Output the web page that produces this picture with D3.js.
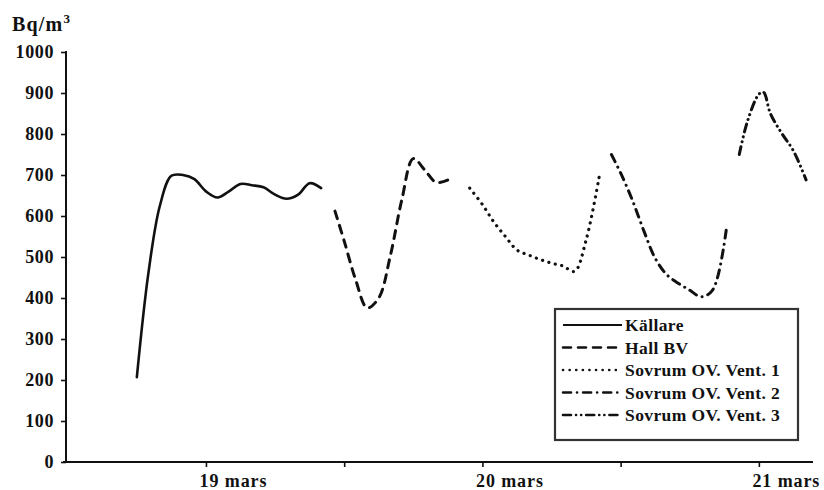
<!DOCTYPE html>
<html>
<head>
<meta charset="utf-8">
<script src="https://cdn.jsdelivr.net/npm/d3@7"></script>
<style>
  html, body { margin: 0; padding: 0; background: #fff; }
  svg { display: block; }
  text { font-family: "Liberation Serif", "Times New Roman", serif; font-weight: bold; fill: #111; }
</style>
</head>
<body>
<svg id="chart" width="824" height="490"></svg>
<script>
// ---- Data (hours relative to 19 mars 00:00, values in Bq/m3) ----
const seriesNames = ["Källare", "Hall BV", "Sovrum OV. Vent. 1", "Sovrum OV. Vent. 2", "Sovrum OV. Vent. 3"];

const kallareHours  = [-6, -5, -4, -3, -2, -1, 0, 1, 2, 3, 4, 5, 6, 7, 8, 9, 10];
const kallareValues = [207, 460, 625, 698, 700, 690, 660, 645, 660, 678, 675, 670, 652, 642, 652, 680, 668];

const hallHours  = [11.2, 12, 13, 14, 15, 16, 17, 18, 19, 20, 21.2];
const hallValues = [612, 539, 444, 376, 400, 502, 639, 740, 712, 682, 690];

const vent1Hours  = [22.9, 24, 25, 26, 27, 28, 29, 30, 31, 32, 33, 34.2];
const vent1Values = [668, 628, 585, 550, 517, 505, 494, 485, 478, 465, 541, 705];

const vent2Hours  = [35.2, 36, 37, 38, 39, 40, 41, 42, 43, 44, 45.2];
const vent2Values = [750, 705, 640, 565, 497, 457, 436, 419, 403, 420, 573];

const vent3Hours  = [46.3, 47, 48, 48.4, 49, 50, 51, 52.1];
const vent3Values = [750, 830, 897, 902, 850, 801, 759, 688];

const yTicks = [0, 100, 200, 300, 400, 500, 600, 700, 800, 900, 1000];
const xTicks = [0, 12, 24, 36, 48];
const xTickLabels = ["19 mars", "", "20 mars", "", "21 mars"];
const yUnit = "Bq/m";

// ---- Styles ----
const dashStyles = [
  { dash: null,               cap: "round", w: 2.6 },
  { dash: "8,7",              cap: "round", w: 3.0 },
  { dash: "0.1,6.5",          cap: "round", w: 3.2 },
  { dash: "8,6,0.1,6",        cap: "round", w: 3.0 },
  { dash: "8,5,0.1,5,0.1,5",  cap: "round", w: 3.0 }
];

const svg = d3.select("#chart");

const x = d3.scaleLinear().domain([-12.15, 52.7]).range([66, 813]);
const y = d3.scaleLinear().domain([0, 1000]).range([462, 52]);

// Axes
const yAxis = d3.axisLeft(y).tickValues(yTicks).tickSize(5).tickSizeOuter(0).tickPadding(7).tickFormat(d3.format("d"));
const gy = svg.append("g").attr("transform", "translate(66,0)").call(yAxis);
gy.select(".domain").attr("stroke", "#111").attr("stroke-width", 2).attr("d", "M0,462.5V51");
gy.selectAll(".tick line").attr("stroke", "#111").attr("stroke-width", 1.6);
gy.selectAll(".tick text").style("font-size", "18px").style("letter-spacing", "0.6px").attr("dy", "0.3em");

const xAxis = d3.axisBottom(x).tickValues(xTicks).tickSize(5).tickSizeOuter(0).tickPadding(4)
  .tickFormat((d, i) => xTickLabels[i]);
const gx = svg.append("g").attr("transform", "translate(0,462)").call(xAxis);
gx.select(".domain").attr("stroke", "#111").attr("stroke-width", 2).attr("d", "M63,0H813");
gx.selectAll(".tick line").attr("stroke", "#111").attr("stroke-width", 1.6);
gx.selectAll(".tick text").style("font-size", "18px").style("letter-spacing", "0.9px")
  .attr("dx", 27).attr("dy", "0.9em");

// Unit label
const unit = svg.append("text").attr("x", 12).attr("y", 31).style("font-size", "20px").style("letter-spacing", "1.2px").text(yUnit);
unit.append("tspan").attr("dy", -8).style("font-size", "13px").text("3");

// Lines
const allHours = [kallareHours, hallHours, vent1Hours, vent2Hours, vent3Hours];
const allValues = [kallareValues, hallValues, vent1Values, vent2Values, vent3Values];

const line = d3.line().x(d => x(d[0])).y(d => y(d[1])).curve(d3.curveCatmullRom.alpha(0.5));

allHours.forEach((hrs, i) => {
  const pts = hrs.map((h, j) => [h, allValues[i][j]]);
  const s = dashStyles[i];
  svg.append("path")
    .attr("d", line(pts))
    .attr("fill", "none")
    .attr("stroke", "#111")
    .attr("stroke-width", s.w)
    .attr("stroke-linecap", s.cap)
    .attr("stroke-linejoin", "round")
    .attr("stroke-dasharray", s.dash);
});

// Legend
const lg = svg.append("g").attr("transform", "translate(555,309)");
lg.append("rect").attr("x", 0).attr("y", 0).attr("width", 243).attr("height", 131)
  .attr("fill", "#fff").attr("stroke", "#333").attr("stroke-width", 2.2);
seriesNames.forEach((name, i) => {
  const cy = 16 + i * 22.5;
  const s = dashStyles[i];
  lg.append("line").attr("x1", 8).attr("x2", 67).attr("y1", cy).attr("y2", cy)
    .attr("stroke", "#111").attr("stroke-width", i === 0 ? 2 : 2.6)
    .attr("stroke-linecap", i === 0 ? "butt" : s.cap)
    .attr("stroke-dasharray", s.dash);
  lg.append("text").attr("x", 70).attr("y", cy).attr("dy", "0.35em")
    .style("font-size", "17.5px").style("letter-spacing", "0.4px").text(name);
});
</script>
</body>
</html>
